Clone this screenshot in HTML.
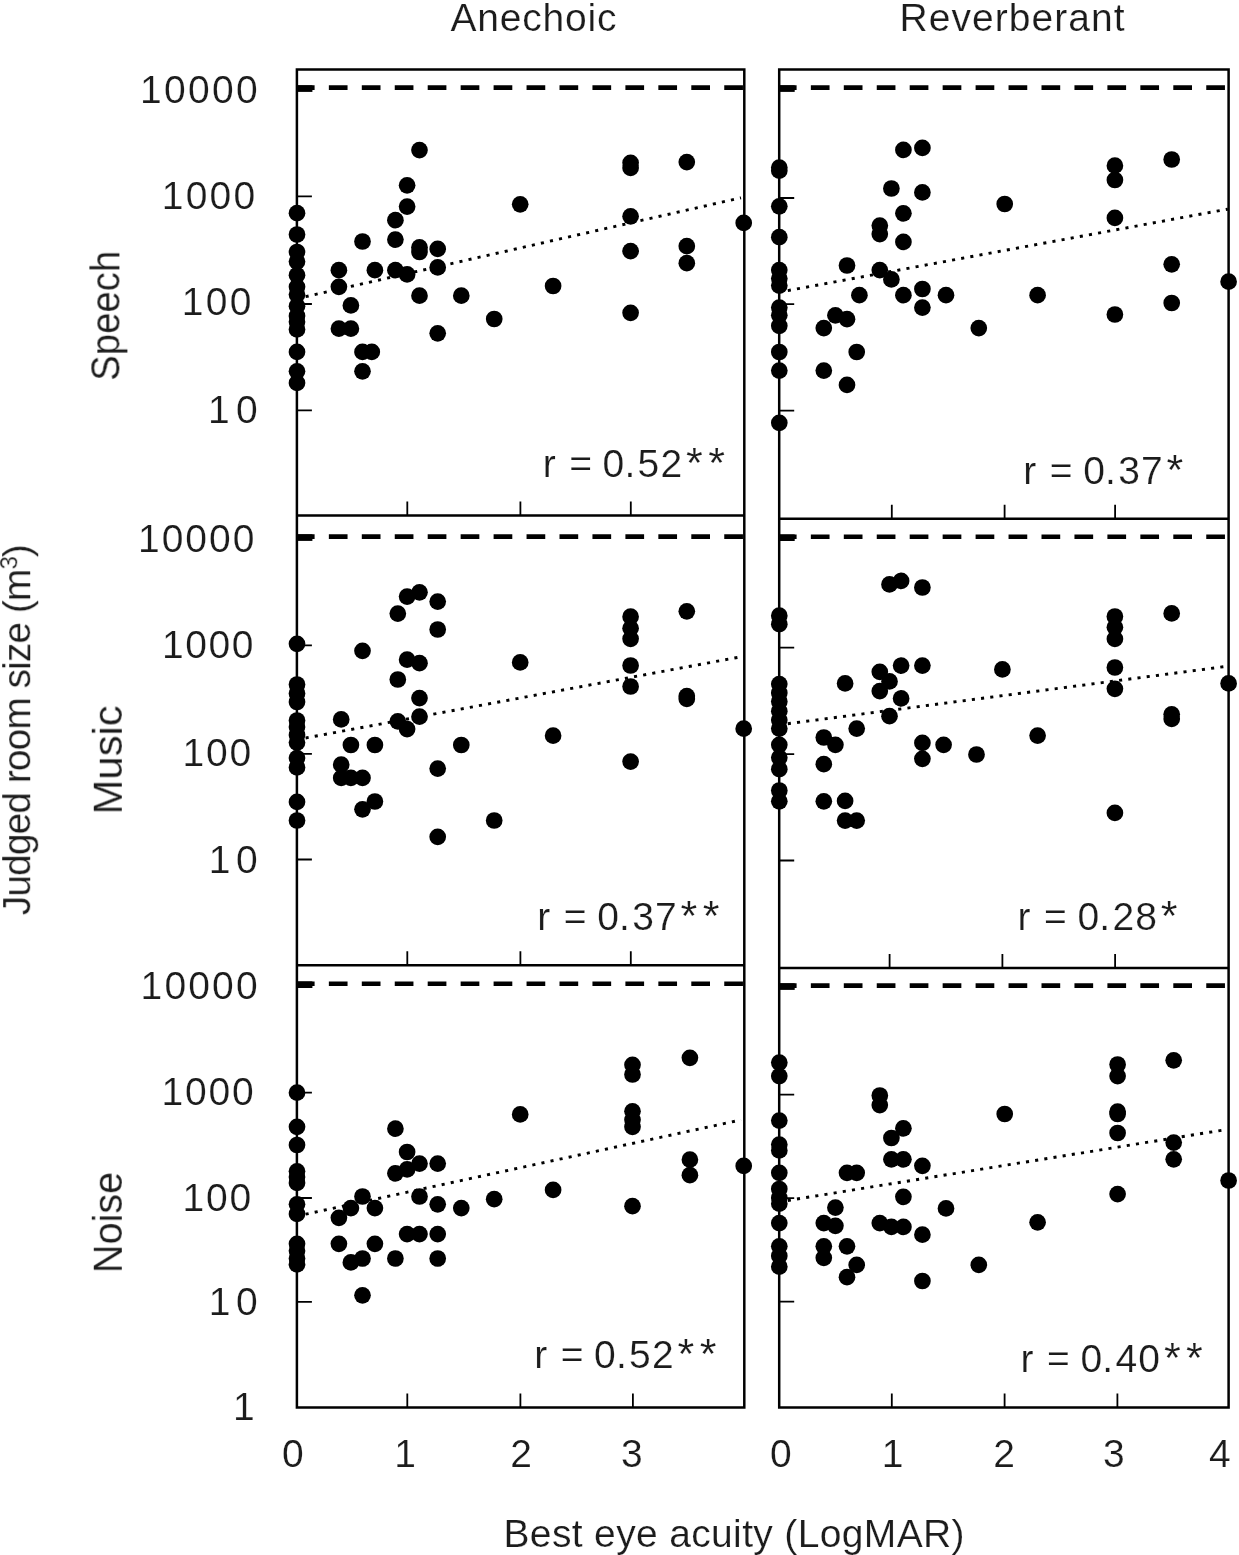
<!DOCTYPE html>
<html><head><meta charset="utf-8"><title>Judged room size vs best eye acuity</title>
<style>
html,body{margin:0;padding:0;background:#fff;}
svg{display:block;}
text{font-family:"Liberation Sans",sans-serif;fill:#1a1a1a;stroke:#fff;stroke-width:0.2px;}
.ax{stroke:#000;stroke-width:2.5;fill:none;}
.tk{stroke:#000;stroke-width:1.8;fill:none;}
.dash{stroke:#000;stroke-width:4.6;fill:none;stroke-dasharray:18.7 14.25;}
.tr{stroke:#000;stroke-width:2.9;fill:none;stroke-dasharray:3.1 6.18;}
</style></head><body>
<svg width="1239" height="1555" viewBox="0 0 1239 1555">
<rect width="1239" height="1555" fill="#fff"/>
<defs><filter id="soft" x="0" y="0" width="1239" height="1555" filterUnits="userSpaceOnUse"><feGaussianBlur stdDeviation="0.55"/></filter></defs>
<g filter="url(#soft)">

<path class="ax" d="M296.9,69.4H744.3V1407.6H296.9Z M296.9,515.6H744.3 M296.9,965.2H744.3"/>
<path class="ax" d="M779.2,69.4H1228.6V1407.5H779.2Z M779.2,518.7H1228.6 M779.2,968.0H1228.6"/>
<path class="tk" d="M407.3,515.6v-14M520.4,515.6v-14M630.8,515.6v-14M407.3,965.2v-14M520.4,965.2v-14M630.8,965.2v-14M407.3,1407.6v-14M520.4,1407.6v-14M632.9,1407.6v-14M891.8,518.7v-14M1004.6,518.7v-14M1115.1,518.7v-14M889.6,968.0v-14M1002.4,968.0v-14M1115.1,968.0v-14M891.8,1407.5v-14M1004.6,1407.5v-14M1117.4,1407.5v-14M296.9,196.3h15M296.9,304.0h15M296.9,410.3h15M296.9,645.3h15M296.9,753.8h15M296.9,859.5h15M296.9,1092.6h15M296.9,1198.0h15M296.9,1301.8h15M779.2,198.0h15M779.2,304.2h15M779.2,410.6h15M779.2,647.6h15M779.2,754.1h15M779.2,860.5h15M779.2,1094.7h15M779.2,1198.1h15M779.2,1301.7h15"/>
<path class="dash" d="M296.9,87.6H744.3" stroke-dashoffset="1.0"/><rect x="296.9" y="85.3" width="15.5" height="6.6"/>
<path class="dash" d="M296.9,536.6H744.3" stroke-dashoffset="1.0"/><rect x="296.9" y="534.3000000000001" width="15.5" height="6.6"/>
<path class="dash" d="M296.9,983.7H744.3" stroke-dashoffset="1.0"/><rect x="296.9" y="981.4000000000001" width="15.5" height="6.6"/>
<path class="dash" d="M779.2,87.6H1226.6" stroke-dashoffset="1.3"/><rect x="779.2" y="85.3" width="15.5" height="6.6"/>
<path class="dash" d="M779.2,536.7H1226.6" stroke-dashoffset="1.3"/><rect x="779.2" y="534.4000000000001" width="15.5" height="6.6"/>
<path class="dash" d="M779.2,985.6H1226.6" stroke-dashoffset="1.3"/><rect x="779.2" y="983.3000000000001" width="15.5" height="6.6"/>
<path class="tr" d="M305.6,296.7L741,197.8"/>
<path class="tr" d="M787.8,290.6L1227.8,209.1"/>
<path class="tr" d="M305.6,738.0L743.7,656.3"/>
<path class="tr" d="M787.8,723.7L1228.6,666.1"/>
<path class="tr" d="M305.6,1214.2L741,1119.9"/>
<path class="tr" d="M787.8,1200.5L1225.9,1129.6"/>
<g fill="#000">
<circle cx="297.0" cy="213.2" r="8.35"/>
<circle cx="297.0" cy="234.5" r="8.35"/>
<circle cx="297.0" cy="252.0" r="8.35"/>
<circle cx="297.0" cy="261.6" r="8.35"/>
<circle cx="297.0" cy="275.2" r="8.35"/>
<circle cx="297.0" cy="286.8" r="8.35"/>
<circle cx="297.0" cy="294.6" r="8.35"/>
<circle cx="297.0" cy="306.2" r="8.35"/>
<circle cx="297.0" cy="315.9" r="8.35"/>
<circle cx="297.0" cy="321.7" r="8.35"/>
<circle cx="297.0" cy="329.4" r="8.35"/>
<circle cx="297.0" cy="351.9" r="8.35"/>
<circle cx="297.0" cy="371.3" r="8.35"/>
<circle cx="297.0" cy="382.9" r="8.35"/>
<circle cx="338.9" cy="270.2" r="8.35"/>
<circle cx="338.9" cy="286.8" r="8.35"/>
<circle cx="338.9" cy="328.7" r="8.35"/>
<circle cx="350.9" cy="328.7" r="8.35"/>
<circle cx="350.9" cy="305.4" r="8.35"/>
<circle cx="362.5" cy="241.5" r="8.35"/>
<circle cx="362.5" cy="351.9" r="8.35"/>
<circle cx="371.8" cy="351.9" r="8.35"/>
<circle cx="362.5" cy="371.3" r="8.35"/>
<circle cx="374.9" cy="270.2" r="8.35"/>
<circle cx="395.4" cy="220.2" r="8.35"/>
<circle cx="395.4" cy="239.6" r="8.35"/>
<circle cx="395.4" cy="270.2" r="8.35"/>
<circle cx="407.1" cy="185.3" r="8.35"/>
<circle cx="407.1" cy="206.6" r="8.35"/>
<circle cx="407.1" cy="274.4" r="8.35"/>
<circle cx="419.5" cy="150.1" r="8.35"/>
<circle cx="419.5" cy="247.3" r="8.35"/>
<circle cx="419.5" cy="252.0" r="8.35"/>
<circle cx="419.5" cy="295.7" r="8.35"/>
<circle cx="437.7" cy="248.9" r="8.35"/>
<circle cx="437.7" cy="267.4" r="8.35"/>
<circle cx="437.7" cy="333.3" r="8.35"/>
<circle cx="461.3" cy="295.7" r="8.35"/>
<circle cx="494.2" cy="319.0" r="8.35"/>
<circle cx="520.2" cy="204.3" r="8.35"/>
<circle cx="553.1" cy="286.0" r="8.35"/>
<circle cx="630.6" cy="162.8" r="8.35"/>
<circle cx="630.6" cy="167.9" r="8.35"/>
<circle cx="630.6" cy="216.3" r="8.35"/>
<circle cx="630.6" cy="251.2" r="8.35"/>
<circle cx="630.6" cy="312.8" r="8.35"/>
<circle cx="686.8" cy="162.1" r="8.35"/>
<circle cx="686.8" cy="246.1" r="8.35"/>
<circle cx="686.8" cy="263.2" r="8.35"/>
<circle cx="743.7" cy="222.9" r="8.35"/>
<circle cx="779.3" cy="167.6" r="8.35"/>
<circle cx="779.3" cy="170.7" r="8.35"/>
<circle cx="779.3" cy="206.3" r="8.35"/>
<circle cx="779.3" cy="237.2" r="8.35"/>
<circle cx="779.3" cy="270.1" r="8.35"/>
<circle cx="779.3" cy="278.6" r="8.35"/>
<circle cx="779.3" cy="285.6" r="8.35"/>
<circle cx="779.3" cy="307.6" r="8.35"/>
<circle cx="779.3" cy="315.3" r="8.35"/>
<circle cx="779.3" cy="325.8" r="8.35"/>
<circle cx="779.3" cy="352.0" r="8.35"/>
<circle cx="779.3" cy="370.6" r="8.35"/>
<circle cx="779.3" cy="422.8" r="8.35"/>
<circle cx="823.8" cy="328.1" r="8.35"/>
<circle cx="823.8" cy="370.6" r="8.35"/>
<circle cx="835.4" cy="315.3" r="8.35"/>
<circle cx="847.0" cy="319.2" r="8.35"/>
<circle cx="847.0" cy="265.5" r="8.35"/>
<circle cx="847.0" cy="384.9" r="8.35"/>
<circle cx="856.7" cy="352.0" r="8.35"/>
<circle cx="859.4" cy="295.2" r="8.35"/>
<circle cx="879.8" cy="225.6" r="8.35"/>
<circle cx="879.8" cy="234.1" r="8.35"/>
<circle cx="879.8" cy="270.1" r="8.35"/>
<circle cx="891.4" cy="188.5" r="8.35"/>
<circle cx="891.4" cy="279.4" r="8.35"/>
<circle cx="903.4" cy="149.9" r="8.35"/>
<circle cx="903.4" cy="213.3" r="8.35"/>
<circle cx="903.4" cy="241.9" r="8.35"/>
<circle cx="903.4" cy="295.2" r="8.35"/>
<circle cx="922.4" cy="147.9" r="8.35"/>
<circle cx="922.4" cy="192.4" r="8.35"/>
<circle cx="922.4" cy="289.0" r="8.35"/>
<circle cx="922.4" cy="307.6" r="8.35"/>
<circle cx="946.0" cy="295.2" r="8.35"/>
<circle cx="978.8" cy="328.1" r="8.35"/>
<circle cx="1004.7" cy="204.0" r="8.35"/>
<circle cx="1037.6" cy="295.2" r="8.35"/>
<circle cx="1114.9" cy="165.7" r="8.35"/>
<circle cx="1114.9" cy="180.0" r="8.35"/>
<circle cx="1114.9" cy="217.9" r="8.35"/>
<circle cx="1114.9" cy="314.5" r="8.35"/>
<circle cx="1171.7" cy="159.5" r="8.35"/>
<circle cx="1171.7" cy="264.3" r="8.35"/>
<circle cx="1171.7" cy="303.0" r="8.35"/>
<circle cx="1228.6" cy="281.7" r="8.35"/>
<circle cx="297.0" cy="643.8" r="8.35"/>
<circle cx="297.0" cy="684.5" r="8.35"/>
<circle cx="297.0" cy="693.4" r="8.35"/>
<circle cx="297.0" cy="702.0" r="8.35"/>
<circle cx="297.0" cy="720.5" r="8.35"/>
<circle cx="297.0" cy="727.1" r="8.35"/>
<circle cx="297.0" cy="734.9" r="8.35"/>
<circle cx="297.0" cy="742.6" r="8.35"/>
<circle cx="297.0" cy="758.1" r="8.35"/>
<circle cx="297.0" cy="767.4" r="8.35"/>
<circle cx="297.0" cy="801.9" r="8.35"/>
<circle cx="297.0" cy="820.5" r="8.35"/>
<circle cx="341.2" cy="719.4" r="8.35"/>
<circle cx="341.2" cy="764.7" r="8.35"/>
<circle cx="341.2" cy="777.9" r="8.35"/>
<circle cx="350.9" cy="745.0" r="8.35"/>
<circle cx="350.9" cy="777.9" r="8.35"/>
<circle cx="362.5" cy="650.8" r="8.35"/>
<circle cx="362.5" cy="777.9" r="8.35"/>
<circle cx="362.5" cy="809.3" r="8.35"/>
<circle cx="374.9" cy="745.0" r="8.35"/>
<circle cx="374.9" cy="801.5" r="8.35"/>
<circle cx="397.8" cy="613.6" r="8.35"/>
<circle cx="397.8" cy="679.5" r="8.35"/>
<circle cx="397.8" cy="721.3" r="8.35"/>
<circle cx="407.1" cy="596.6" r="8.35"/>
<circle cx="407.1" cy="659.7" r="8.35"/>
<circle cx="407.1" cy="729.1" r="8.35"/>
<circle cx="419.5" cy="592.3" r="8.35"/>
<circle cx="419.5" cy="663.2" r="8.35"/>
<circle cx="419.5" cy="698.1" r="8.35"/>
<circle cx="419.5" cy="716.7" r="8.35"/>
<circle cx="437.7" cy="601.6" r="8.35"/>
<circle cx="437.7" cy="629.5" r="8.35"/>
<circle cx="437.7" cy="768.6" r="8.35"/>
<circle cx="437.7" cy="836.8" r="8.35"/>
<circle cx="461.3" cy="745.0" r="8.35"/>
<circle cx="494.2" cy="820.5" r="8.35"/>
<circle cx="520.2" cy="662.4" r="8.35"/>
<circle cx="553.1" cy="735.7" r="8.35"/>
<circle cx="630.6" cy="616.7" r="8.35"/>
<circle cx="630.6" cy="628.3" r="8.35"/>
<circle cx="630.6" cy="638.8" r="8.35"/>
<circle cx="630.6" cy="665.5" r="8.35"/>
<circle cx="630.6" cy="686.5" r="8.35"/>
<circle cx="630.6" cy="761.6" r="8.35"/>
<circle cx="686.8" cy="611.3" r="8.35"/>
<circle cx="686.8" cy="696.1" r="8.35"/>
<circle cx="686.8" cy="698.9" r="8.35"/>
<circle cx="743.7" cy="728.7" r="8.35"/>
<circle cx="779.3" cy="615.7" r="8.35"/>
<circle cx="779.3" cy="624.2" r="8.35"/>
<circle cx="779.3" cy="684.1" r="8.35"/>
<circle cx="779.3" cy="693.0" r="8.35"/>
<circle cx="779.3" cy="701.5" r="8.35"/>
<circle cx="779.3" cy="711.2" r="8.35"/>
<circle cx="779.3" cy="720.1" r="8.35"/>
<circle cx="779.3" cy="728.6" r="8.35"/>
<circle cx="779.3" cy="744.8" r="8.35"/>
<circle cx="779.3" cy="757.6" r="8.35"/>
<circle cx="779.3" cy="769.2" r="8.35"/>
<circle cx="779.3" cy="790.5" r="8.35"/>
<circle cx="779.3" cy="801.3" r="8.35"/>
<circle cx="823.8" cy="737.5" r="8.35"/>
<circle cx="823.8" cy="764.2" r="8.35"/>
<circle cx="823.8" cy="801.3" r="8.35"/>
<circle cx="835.4" cy="744.8" r="8.35"/>
<circle cx="845.1" cy="683.4" r="8.35"/>
<circle cx="845.1" cy="800.9" r="8.35"/>
<circle cx="845.1" cy="820.6" r="8.35"/>
<circle cx="856.7" cy="820.6" r="8.35"/>
<circle cx="856.7" cy="728.6" r="8.35"/>
<circle cx="879.8" cy="671.8" r="8.35"/>
<circle cx="879.8" cy="691.1" r="8.35"/>
<circle cx="889.5" cy="584.4" r="8.35"/>
<circle cx="889.5" cy="681.4" r="8.35"/>
<circle cx="889.5" cy="716.2" r="8.35"/>
<circle cx="901.1" cy="580.9" r="8.35"/>
<circle cx="901.1" cy="665.6" r="8.35"/>
<circle cx="901.1" cy="698.4" r="8.35"/>
<circle cx="922.4" cy="587.5" r="8.35"/>
<circle cx="922.4" cy="665.6" r="8.35"/>
<circle cx="922.4" cy="742.9" r="8.35"/>
<circle cx="922.4" cy="758.8" r="8.35"/>
<circle cx="943.6" cy="744.8" r="8.35"/>
<circle cx="976.5" cy="754.5" r="8.35"/>
<circle cx="1002.4" cy="669.4" r="8.35"/>
<circle cx="1037.6" cy="735.6" r="8.35"/>
<circle cx="1114.9" cy="616.5" r="8.35"/>
<circle cx="1114.9" cy="627.3" r="8.35"/>
<circle cx="1114.9" cy="638.9" r="8.35"/>
<circle cx="1114.9" cy="667.5" r="8.35"/>
<circle cx="1114.9" cy="688.8" r="8.35"/>
<circle cx="1114.9" cy="812.9" r="8.35"/>
<circle cx="1171.7" cy="613.4" r="8.35"/>
<circle cx="1171.7" cy="714.3" r="8.35"/>
<circle cx="1171.7" cy="718.9" r="8.35"/>
<circle cx="1228.6" cy="683.4" r="8.35"/>
<circle cx="297.0" cy="1092.7" r="8.35"/>
<circle cx="297.0" cy="1126.8" r="8.35"/>
<circle cx="297.0" cy="1145.0" r="8.35"/>
<circle cx="297.0" cy="1171.3" r="8.35"/>
<circle cx="297.0" cy="1177.1" r="8.35"/>
<circle cx="297.0" cy="1182.9" r="8.35"/>
<circle cx="297.0" cy="1204.3" r="8.35"/>
<circle cx="297.0" cy="1213.9" r="8.35"/>
<circle cx="297.0" cy="1243.8" r="8.35"/>
<circle cx="297.0" cy="1250.7" r="8.35"/>
<circle cx="297.0" cy="1258.5" r="8.35"/>
<circle cx="297.0" cy="1264.3" r="8.35"/>
<circle cx="338.9" cy="1217.8" r="8.35"/>
<circle cx="338.9" cy="1243.8" r="8.35"/>
<circle cx="350.9" cy="1208.1" r="8.35"/>
<circle cx="350.9" cy="1262.4" r="8.35"/>
<circle cx="362.5" cy="1196.5" r="8.35"/>
<circle cx="362.5" cy="1258.5" r="8.35"/>
<circle cx="362.5" cy="1295.3" r="8.35"/>
<circle cx="374.9" cy="1208.1" r="8.35"/>
<circle cx="374.9" cy="1243.8" r="8.35"/>
<circle cx="395.4" cy="1128.7" r="8.35"/>
<circle cx="395.4" cy="1173.3" r="8.35"/>
<circle cx="395.4" cy="1258.5" r="8.35"/>
<circle cx="407.1" cy="1152.0" r="8.35"/>
<circle cx="407.1" cy="1169.4" r="8.35"/>
<circle cx="407.1" cy="1234.1" r="8.35"/>
<circle cx="419.5" cy="1163.6" r="8.35"/>
<circle cx="419.5" cy="1196.5" r="8.35"/>
<circle cx="419.5" cy="1234.1" r="8.35"/>
<circle cx="437.7" cy="1163.6" r="8.35"/>
<circle cx="437.7" cy="1204.3" r="8.35"/>
<circle cx="437.7" cy="1234.1" r="8.35"/>
<circle cx="437.7" cy="1258.5" r="8.35"/>
<circle cx="461.3" cy="1208.1" r="8.35"/>
<circle cx="494.2" cy="1199.2" r="8.35"/>
<circle cx="520.2" cy="1114.4" r="8.35"/>
<circle cx="553.1" cy="1189.9" r="8.35"/>
<circle cx="632.5" cy="1064.8" r="8.35"/>
<circle cx="632.5" cy="1074.5" r="8.35"/>
<circle cx="632.5" cy="1111.3" r="8.35"/>
<circle cx="632.5" cy="1119.8" r="8.35"/>
<circle cx="632.5" cy="1126.8" r="8.35"/>
<circle cx="632.5" cy="1206.2" r="8.35"/>
<circle cx="689.9" cy="1057.8" r="8.35"/>
<circle cx="689.9" cy="1159.7" r="8.35"/>
<circle cx="689.9" cy="1175.2" r="8.35"/>
<circle cx="743.7" cy="1165.9" r="8.35"/>
<circle cx="779.3" cy="1062.6" r="8.35"/>
<circle cx="779.3" cy="1076.1" r="8.35"/>
<circle cx="779.3" cy="1120.6" r="8.35"/>
<circle cx="779.3" cy="1144.6" r="8.35"/>
<circle cx="779.3" cy="1150.4" r="8.35"/>
<circle cx="779.3" cy="1172.8" r="8.35"/>
<circle cx="779.3" cy="1189.0" r="8.35"/>
<circle cx="779.3" cy="1197.9" r="8.35"/>
<circle cx="779.3" cy="1203.7" r="8.35"/>
<circle cx="779.3" cy="1223.1" r="8.35"/>
<circle cx="779.3" cy="1246.3" r="8.35"/>
<circle cx="779.3" cy="1255.9" r="8.35"/>
<circle cx="779.3" cy="1266.7" r="8.35"/>
<circle cx="823.8" cy="1223.1" r="8.35"/>
<circle cx="823.8" cy="1246.3" r="8.35"/>
<circle cx="823.8" cy="1257.8" r="8.35"/>
<circle cx="835.4" cy="1207.6" r="8.35"/>
<circle cx="835.4" cy="1225.8" r="8.35"/>
<circle cx="847.0" cy="1172.8" r="8.35"/>
<circle cx="847.0" cy="1246.3" r="8.35"/>
<circle cx="847.0" cy="1277.2" r="8.35"/>
<circle cx="856.7" cy="1172.8" r="8.35"/>
<circle cx="856.7" cy="1264.8" r="8.35"/>
<circle cx="879.8" cy="1095.5" r="8.35"/>
<circle cx="879.8" cy="1105.1" r="8.35"/>
<circle cx="879.8" cy="1223.1" r="8.35"/>
<circle cx="891.4" cy="1138.0" r="8.35"/>
<circle cx="891.4" cy="1159.3" r="8.35"/>
<circle cx="891.4" cy="1226.9" r="8.35"/>
<circle cx="903.4" cy="1128.3" r="8.35"/>
<circle cx="903.4" cy="1159.3" r="8.35"/>
<circle cx="903.4" cy="1196.8" r="8.35"/>
<circle cx="903.4" cy="1226.9" r="8.35"/>
<circle cx="922.4" cy="1165.8" r="8.35"/>
<circle cx="922.4" cy="1234.7" r="8.35"/>
<circle cx="922.4" cy="1281.0" r="8.35"/>
<circle cx="946.0" cy="1208.4" r="8.35"/>
<circle cx="978.8" cy="1264.8" r="8.35"/>
<circle cx="1004.7" cy="1114.0" r="8.35"/>
<circle cx="1037.6" cy="1222.3" r="8.35"/>
<circle cx="1117.6" cy="1064.5" r="8.35"/>
<circle cx="1117.6" cy="1076.1" r="8.35"/>
<circle cx="1117.6" cy="1111.7" r="8.35"/>
<circle cx="1117.6" cy="1114.0" r="8.35"/>
<circle cx="1117.6" cy="1133.0" r="8.35"/>
<circle cx="1117.6" cy="1194.1" r="8.35"/>
<circle cx="1173.7" cy="1060.3" r="8.35"/>
<circle cx="1173.7" cy="1142.6" r="8.35"/>
<circle cx="1173.7" cy="1159.3" r="8.35"/>
<circle cx="1228.6" cy="1180.5" r="8.35"/>
</g>
<text x="450.5" y="30.7" font-size="39" text-anchor="start" textLength="166" lengthAdjust="spacing">Anechoic</text>
<text x="899.5" y="30.7" font-size="39" text-anchor="start" textLength="225" lengthAdjust="spacing">Reverberant</text>
<text x="140.1" y="103.3" font-size="39" text-anchor="start" textLength="117.6" lengthAdjust="spacing">10000</text>
<text x="161.7" y="209.2" font-size="39" text-anchor="start" textLength="93.5" lengthAdjust="spacing">1000</text>
<text x="181.8" y="314.8" font-size="39" text-anchor="start" textLength="69.7" lengthAdjust="spacing">100</text>
<text x="208.0" y="422.9" font-size="39" text-anchor="start" textLength="49.7" lengthAdjust="spacing">10</text>
<text x="138.0" y="552.1" font-size="39" text-anchor="start" textLength="116.4" lengthAdjust="spacing">10000</text>
<text x="162.1" y="658.2" font-size="39" text-anchor="start" textLength="91.4" lengthAdjust="spacing">1000</text>
<text x="182.4" y="766.3" font-size="39" text-anchor="start" textLength="68.8" lengthAdjust="spacing">100</text>
<text x="208.7" y="873.0" font-size="39" text-anchor="start" textLength="48.9" lengthAdjust="spacing">10</text>
<text x="140.6" y="999.2" font-size="39" text-anchor="start" textLength="117.0" lengthAdjust="spacing">10000</text>
<text x="161.5" y="1105.3" font-size="39" text-anchor="start" textLength="92.3" lengthAdjust="spacing">1000</text>
<text x="182.4" y="1211.1" font-size="39" text-anchor="start" textLength="68.8" lengthAdjust="spacing">100</text>
<text x="208.7" y="1315.0" font-size="39" text-anchor="start" textLength="48.9" lengthAdjust="spacing">10</text>
<text x="232.9" y="1420.1" font-size="39" text-anchor="start">1</text>
<text x="292.9" y="1467.4" font-size="39" text-anchor="middle">0</text>
<text x="405.2" y="1467.4" font-size="39" text-anchor="middle">1</text>
<text x="521.1" y="1467.4" font-size="39" text-anchor="middle">2</text>
<text x="631.9" y="1467.4" font-size="39" text-anchor="middle">3</text>
<text x="780.8" y="1467.4" font-size="39" text-anchor="middle">0</text>
<text x="892.6" y="1467.4" font-size="39" text-anchor="middle">1</text>
<text x="1004.2" y="1467.4" font-size="39" text-anchor="middle">2</text>
<text x="1113.9" y="1467.4" font-size="39" text-anchor="middle">3</text>
<text x="1219.8" y="1467.4" font-size="39" text-anchor="middle">4</text>
<text x="503.5" y="1547.2" font-size="39" text-anchor="start" textLength="461" lengthAdjust="spacing">Best eye acuity (LogMAR)</text>
<text font-size="39" transform="translate(30.2,915.2) rotate(-90)" textLength="371" lengthAdjust="spacing">Judged room size (m<tspan font-size="24" dy="-13">3</tspan><tspan dy="13">)</tspan></text>
<text font-size="41" transform="translate(119.4,380.8) rotate(-90)" textLength="130" lengthAdjust="spacingAndGlyphs">Speech</text>
<text font-size="41" transform="translate(121.8,814.5) rotate(-90)" textLength="109.3" lengthAdjust="spacingAndGlyphs">Music</text>
<text font-size="41" transform="translate(121.8,1273.2) rotate(-90)" textLength="101.4" lengthAdjust="spacingAndGlyphs">Noise</text>
<text x="542.7 558.2 569.2 588.2 602.6 624.4 637.6 660.4 686.0 708.2" y="477.0" font-size="39">r = 0.52<tspan font-size="43">**</tspan></text>
<text x="1023.3 1038.8 1049.8 1068.8 1083.2 1105.0 1118.2 1141.0 1166.6" y="483.8" font-size="39">r = 0.37<tspan font-size="43">*</tspan></text>
<text x="537.3 552.8 563.8 582.8 597.2 619.0 632.2 655.0 680.6 702.8" y="930.0" font-size="39">r = 0.37<tspan font-size="43">**</tspan></text>
<text x="1017.5 1033.0 1044.0 1063.0 1077.4 1099.2 1112.4 1135.2 1160.8" y="930.3" font-size="39">r = 0.28<tspan font-size="43">*</tspan></text>
<text x="534.2 549.7 560.7 579.7 594.1 615.9 629.1 651.9 677.5 699.7" y="1367.6" font-size="39">r = 0.52<tspan font-size="43">**</tspan></text>
<text x="1020.6 1036.1 1047.1 1066.1 1080.5 1102.3 1115.5 1138.3 1163.9 1186.1" y="1372.2" font-size="39">r = 0.40<tspan font-size="43">**</tspan></text>
</g></svg></body></html>
